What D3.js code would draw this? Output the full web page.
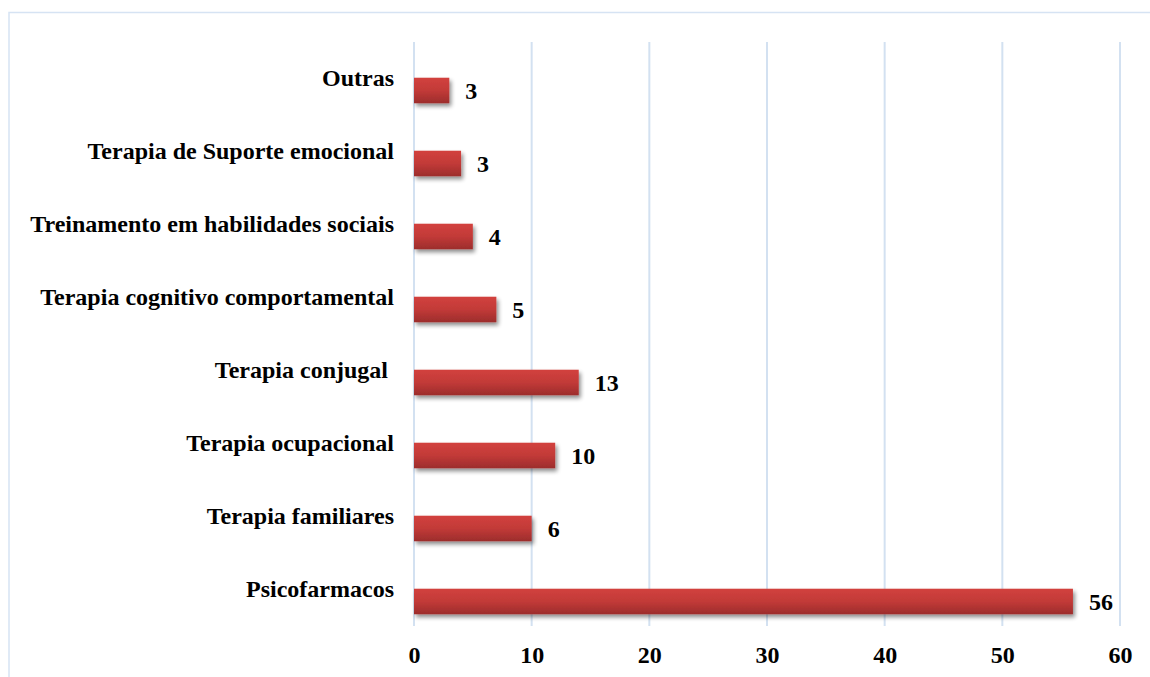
<!DOCTYPE html>
<html>
<head>
<meta charset="utf-8">
<script src="https://cdn.jsdelivr.net/npm/d3@7"></script>
<style>
  html, body { margin: 0; padding: 0; background: #fff; }
  svg { display: block; }
  text { font-family: "Liberation Serif", "Times New Roman", serif; font-weight: bold; fill: #000; }
</style>
</head>
<body>
<svg id="chart" width="1150" height="677"></svg>
<script>
// Categories from top to bottom
const categories = [
  "Outras",
  "Terapia de Suporte emocional",
  "Treinamento em habilidades sociais",
  "Terapia cognitivo comportamental",
  "Terapia conjugal ",
  "Terapia ocupacional",
  "Terapia familiares",
  "Psicofarmacos"
];
// Bar lengths as drawn in the picture
const barValues = [3, 4, 5, 7, 14, 12, 10, 56];
// Data labels as printed next to the bars
const labelValues = [3, 3, 4, 5, 13, 10, 6, 56];
const tickValues = [0, 10, 20, 30, 40, 50, 60];

const svg = d3.select("#chart");
const W = 1150, H = 677;
const plot = { left: 414, right: 1120, top: 42, bottom: 626 };

const x = d3.scaleLinear().domain([0, 60]).range([plot.left, plot.right]);
const y = d3.scaleBand().domain(categories).range([plot.top, plot.bottom]).paddingInner(0.65).paddingOuter(0.325);

const defs = svg.append("defs");
const grad = defs.append("linearGradient").attr("id", "barGrad")
  .attr("x1", 0).attr("y1", 0).attr("x2", 0).attr("y2", 1);
grad.append("stop").attr("offset", "0%").attr("stop-color", "#d2413e");
grad.append("stop").attr("offset", "50%").attr("stop-color", "#c23a38");
grad.append("stop").attr("offset", "100%").attr("stop-color", "#9c2d2c");

const filt = defs.append("filter").attr("id", "shadow")
  .attr("x", "-10%").attr("y", "-30%").attr("width", "130%").attr("height", "190%");
filt.append("feGaussianBlur").attr("in", "SourceAlpha").attr("stdDeviation", 2.2).attr("result", "b");
filt.append("feOffset").attr("in", "b").attr("dx", 2).attr("dy", 3).attr("result", "o");
filt.append("feComponentTransfer").attr("in", "o").attr("result", "s")
  .append("feFuncA").attr("type", "linear").attr("slope", 0.45);
const merge = filt.append("feMerge");
merge.append("feMergeNode").attr("in", "s");
merge.append("feMergeNode").attr("in", "SourceGraphic");

// Chart border
svg.append("rect")
  .attr("x", 9).attr("y", 12.5).attr("width", W + 20).attr("height", H + 20)
  .attr("fill", "none").attr("stroke", "#d6e3f3").attr("stroke-width", 1.5);

// Gridlines
svg.append("g").selectAll("line").data(tickValues).join("line")
  .attr("x1", d => x(d)).attr("x2", d => x(d))
  .attr("y1", plot.top).attr("y2", plot.bottom)
  .attr("stroke", "#d3e1f1").attr("stroke-width", 2);

// X axis tick labels
const xAxis = d3.axisBottom(x).tickValues(tickValues).tickSize(0).tickPadding(0);
const gx = svg.append("g").attr("transform", `translate(0, ${plot.bottom})`).call(xAxis);
gx.select(".domain").remove();
gx.selectAll("text")
  .attr("dy", null).attr("y", 37)
  .style("font-family", '"Liberation Serif", "Times New Roman", serif')
  .style("font-weight", "bold").style("font-size", "24px").attr("fill", "#000");

// Category labels
const yAxis = d3.axisLeft(y).tickSize(0).tickPadding(0);
const gy = svg.append("g").attr("transform", `translate(${plot.left - 20}, 0)`).call(yAxis);
gy.select(".domain").remove();
gy.selectAll("text")
  .attr("x", 0).attr("dy", "0.32em")
  .attr("transform", `translate(0, ${-0.5})`)
  .style("white-space", "pre")
  .style("font-family", '"Liberation Serif", "Times New Roman", serif')
  .style("font-weight", "bold").style("font-size", "24px").attr("fill", "#000");

// Bars (drawn in lower half of band, as in the original)
const barOffset = 12;
svg.append("g").selectAll("rect").data(categories).join("rect")
  .attr("x", x(0))
  .attr("y", d => y(d) + barOffset)
  .attr("width", (d, i) => x(barValues[i]) - x(0))
  .attr("height", y.bandwidth())
  .attr("fill", "url(#barGrad)")
  .attr("filter", "url(#shadow)");

// Value labels
svg.append("g").selectAll("text").data(categories).join("text")
  .attr("x", (d, i) => x(barValues[i]) + 16)
  .attr("y", d => y(d) + barOffset + y.bandwidth() / 2)
  .attr("dy", "0.35em")
  .style("font-size", "24px")
  .text((d, i) => labelValues[i]);
</script>
</body>
</html>
